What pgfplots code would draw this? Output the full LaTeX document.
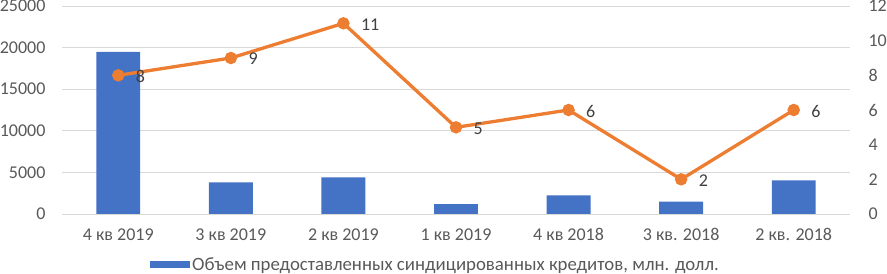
\documentclass[border=0pt]{standalone}
\usepackage{pgfplots}
\pgfplotsset{compat=1.18}
\usepackage{fontspec}
\setmainfont{Carlito}
\definecolor{barblue}{HTML}{4472C4}
\definecolor{lineorange}{HTML}{ED7D31}
\definecolor{gridgray}{HTML}{D9D9D9}
\definecolor{ticktext}{HTML}{595959}
\definecolor{labeltext}{HTML}{404040}
\begin{document}
\begin{tikzpicture}
\path[use as bounding box] (-62bp,-60bp) rectangle (825bp,214bp);
\begin{axis}[
  scale only axis,
  width=788bp, height=208bp,
  xmin=-0.5, xmax=6.5,
  ymin=0, ymax=25000,
  ytick={0,5000,10000,15000,20000,25000},
  xtick={0,1,2,3,4,5,6},
  xticklabels={4 кв 2019,3 кв 2019,2 кв 2019,1 кв 2019,4 кв 2018,3 кв. 2018,2 кв. 2018},
  scaled y ticks=false,
  /pgf/number format/assume math mode=true,
  /pgf/number format/1000 sep={},
  ymajorgrids,
  grid style={gridgray, line width=0.8bp},
  axis line style={draw=none},
  x axis line style={draw=gridgray, line width=0.8bp},
  axis x line*=bottom,
  axis y line*=left,
  major tick length=0pt,
  tick label style={font=\fontsize{18bp}{21bp}\selectfont, text=ticktext},
  yticklabel style={xshift=-13bp},
  xticklabel style={yshift=-11bp},
  ybar, bar width=0.39,
  legend style={at={(0.474,-0.245)}, anchor=center, draw=none, fill=none,
    font=\fontsize{18.8bp}{22bp}\selectfont, text=ticktext, inner sep=0pt,
    /tikz/every even column/.append style={column sep=0pt}},
  legend image code/.code={\fill[barblue] (-5bp,-3.5bp) rectangle (35bp,3.5bp);},
]
\addplot[fill=barblue, draw=none] coordinates {
  (0,19500) (1,3800) (2,4400) (3,1200) (4,2250) (5,1500) (6,4050)
};
\addlegendentry{Объем предоставленных синдицированных кредитов, млн. долл.}
\end{axis}
\begin{axis}[
  scale only axis,
  width=788bp, height=208bp,
  xmin=-0.5, xmax=6.5,
  ymin=0, ymax=12,
  ytick={0,2,4,6,8,10,12},
  axis y line*=right,
  axis x line=none,
  axis line style={draw=none},
  major tick length=0pt,
  /pgf/number format/assume math mode=true,
  tick label style={font=\fontsize{18bp}{21bp}\selectfont, text=ticktext},
  yticklabel style={xshift=15bp},
  nodes near coords,
  nodes near coords style={anchor=west, inner sep=0pt, xshift=16bp, yshift=-1bp,
    font=\fontsize{18bp}{21bp}\selectfont, text=labeltext},
]
\addplot[lineorange, line width=3.3bp, mark=*, mark size=4.5bp,
  mark options={fill=lineorange, draw=lineorange}] coordinates {
  (0,8) (1,9) (2,11) (3,5) (4,6) (5,2) (6,6)
};
\end{axis}
\end{tikzpicture}
\end{document}
